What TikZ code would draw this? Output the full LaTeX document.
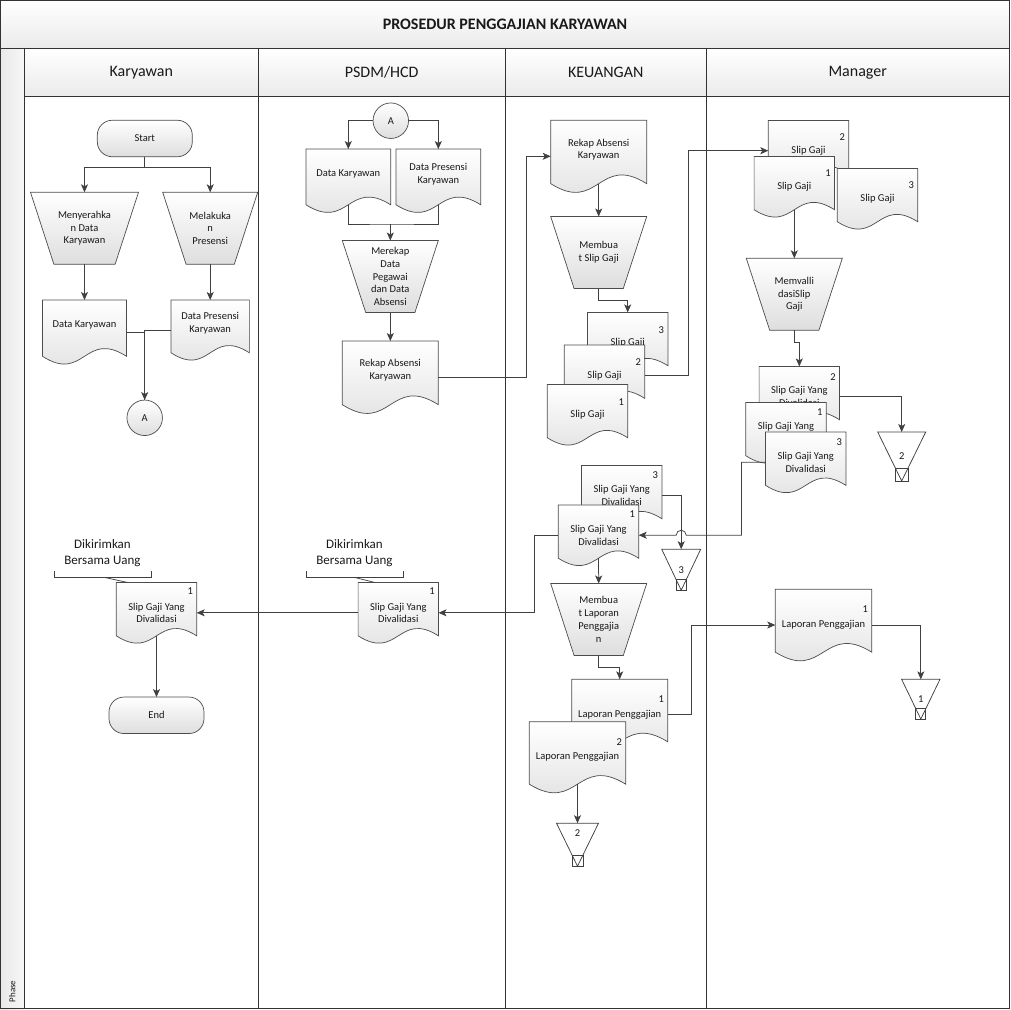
\documentclass[tikz,border=0pt]{standalone}
\usepackage{fontspec}
\setmainfont{Carlito}
\usetikzlibrary{arrows.meta,calc}
\makeatletter
\def\rectanchors{%
  \inheritsavedanchors[from=rectangle]%
  \inheritanchorborder[from=rectangle]%
  \inheritanchor[from=rectangle]{center}%
  \inheritanchor[from=rectangle]{north}%
  \inheritanchor[from=rectangle]{south}%
  \inheritanchor[from=rectangle]{east}%
  \inheritanchor[from=rectangle]{west}%
  \inheritanchor[from=rectangle]{north east}%
  \inheritanchor[from=rectangle]{north west}%
  \inheritanchor[from=rectangle]{south east}%
  \inheritanchor[from=rectangle]{south west}%
  \inheritanchor[from=rectangle]{text}%
  \inheritanchor[from=rectangle]{mid}%
  \inheritanchor[from=rectangle]{base}}
% document with wavy bottom
\pgfdeclareshape{docshape}{%
  \rectanchors
  \anchor{bottom}{%
    \northeast \pgf@xa=\pgf@x \pgf@ya=\pgf@y
    \southwest \advance\pgf@xa by\pgf@x \advance\pgf@ya by-\pgf@y
    \pgf@x=.5\pgf@xa \pgf@ya=.12\pgf@ya \advance\pgf@y by\pgf@ya}%
  \backgroundpath{%
    \southwest \edef\dsh@l{\the\pgf@x}\edef\dsh@b{\the\pgf@y}%
    \northeast \edef\dsh@r{\the\pgf@x}\edef\dsh@t{\the\pgf@y}%
    \pgf@ya=\pgf@y \advance\pgf@ya by-\dsh@b
    \pgf@yb=.42\pgf@ya
    \pgf@ya=.12\pgf@ya \advance\pgf@ya by\dsh@b \edef\dsh@w{\the\pgf@ya}%
    \pgf@yc=\pgf@ya \advance\pgf@yc by\pgf@yb \edef\dsh@u{\the\pgf@yc}%
    \pgf@yc=\pgf@ya \advance\pgf@yc by-\pgf@yb \edef\dsh@d{\the\pgf@yc}%
    \pgf@xa=\dsh@l \advance\pgf@xa by\dsh@r \pgf@xa=.5\pgf@xa \edef\dsh@m{\the\pgf@xa}%
    \pgfpathmoveto{\pgfqpoint{\dsh@l}{\dsh@w}}%
    \pgfpathlineto{\pgfqpoint{\dsh@l}{\dsh@t}}%
    \pgfpathlineto{\pgfqpoint{\dsh@r}{\dsh@t}}%
    \pgfpathlineto{\pgfqpoint{\dsh@r}{\dsh@w}}%
    \pgfpathcurveto{\pgfqpoint{\dsh@m}{\dsh@u}}{\pgfqpoint{\dsh@m}{\dsh@d}}{\pgfqpoint{\dsh@l}{\dsh@w}}%
    \pgfpathclose}%
}
% manual operation
\pgfdeclareshape{manshape}{%
  \rectanchors
  \backgroundpath{%
    \southwest \edef\msh@l{\the\pgf@x}\edef\msh@b{\the\pgf@y}%
    \northeast \edef\msh@r{\the\pgf@x}\edef\msh@t{\the\pgf@y}%
    \pgf@ya=\pgf@y \advance\pgf@ya by-\msh@b
    \pgf@xa=.325\pgf@ya
    \pgf@xb=\msh@l \advance\pgf@xb by\pgf@xa \edef\msh@p{\the\pgf@xb}%
    \pgf@xb=\msh@r \advance\pgf@xb by-\pgf@xa \edef\msh@q{\the\pgf@xb}%
    \pgfpathmoveto{\pgfqpoint{\msh@l}{\msh@t}}%
    \pgfpathlineto{\pgfqpoint{\msh@r}{\msh@t}}%
    \pgfpathlineto{\pgfqpoint{\msh@q}{\msh@b}}%
    \pgfpathlineto{\pgfqpoint{\msh@p}{\msh@b}}%
    \pgfpathclose}%
}
\makeatother
\tikzset{nr/.style 2 args={label={[anchor=center, inner sep=0pt, xshift=-6.5pt, yshift=-#2pt]north east:#1}}}
\begin{document}
\begin{tikzpicture}[>={Stealth[length=8pt,width=7pt,inset=2pt]}, x=1pt, y=-1pt]
\tikzstyle{every node}=[font=\fontsize{10.5}{12.8}\selectfont, align=center, text=black!90]
\tikzstyle{lane}=[draw=black!80, line width=1.2pt]
\tikzstyle{box}=[draw=black!70, line width=0.7pt, top color=white, bottom color=black!13]
\tikzstyle{doc}=[box, shape=docshape, minimum width=80.4, minimum height=60.6, inner sep=1pt, outer sep=0pt]
\tikzstyle{pdoc}=[doc, text depth=15pt]
\tikzstyle{manop}=[box, shape=manshape, minimum width=96, minimum height=72, inner sep=1pt, outer sep=0pt]
\tikzstyle{term}=[box, rectangle, rounded corners=15, minimum width=95, minimum height=36.5, outer sep=0pt]
\tikzstyle{conn}=[box, circle, minimum size=35.5, inner sep=0pt, outer sep=0pt]
\tikzstyle{store}=[rectangle, inner sep=0pt, outer sep=0pt]
\tikzstyle{flow}=[draw=black!75, line width=0.75pt]
\tikzstyle{note}=[font=\fontsize{13}{16}\selectfont, minimum width=96.4, minimum height=48.6, inner sep=0pt]
\useasboundingbox (0,0) rectangle (1010,1010);
% swimlanes
\shade[top color=white, bottom color=black!8] (0,0) rectangle (1010,48.3);
\shade[top color=white, bottom color=black!8] (24.3,48.3) rectangle (1010,96.7);
\shade[left color=black!9, right color=black!3] (0,48.3) rectangle (24.3,1010);
\draw[lane] (0.6,0.6) rectangle (1009.4,1008.6);
\draw[lane] (0.6,48.3) -- (1009.4,48.3) (24.3,96.7) -- (1009.4,96.7);
\foreach \x in {24.3,258.3,505.3,706.3} \draw[lane] (\x,48.3) -- (\x,1008.6);
\node[font=\fontsize{16}{18}\selectfont\bfseries](ttl) at (505,24) {PROSEDUR PENGGAJIAN KARYAWAN};
\node[font=\fontsize{16}{18}\selectfont](h1) at (141.3,72.5) {Karyawan};
\node[font=\fontsize{16}{18}\selectfont](h2) at (381.7,72.5) {PSDM/HCD};
\node[font=\fontsize{16}{18}\selectfont](h3) at (605.7,72.5) {KEUANGAN};
\node[font=\fontsize{16}{18}\selectfont](h4) at (857.7,72.5) {Manager};
\node[font=\fontsize{9}{10}\selectfont, rotate=90](ph) at (12.2,991.5) {Phase};
% Karyawan
\node[term](start) at (144.8,138.5) {Start};
\node[manop, minimum width=108](mk) at (84.5,228.3) {Menyerahka\\n Data\\Karyawan};
\node[manop, minimum width=95](mp) at (210.2,228.3) {Melakuka\\n\\Presensi};
\node[pdoc, minimum width=84, minimum height=64](dk1) at (84.5,332) {Data Karyawan};
\node[pdoc, minimum width=78.3, minimum height=60](dp1) at (210.2,330) {Data Presensi\\Karyawan};
\node[conn](ca) at (144.7,417.8) {A};
\node[note](an1) at (102.5,553) {Dikirimkan\\Bersama Uang};
\node[doc, nr={1}{9}](ks) at (156.5,612.8) {Slip Gaji Yang\\Divalidasi};
\node[term](fin) at (156.5,715.3) {End};
% PSDM/HCD
\node[conn](cb) at (390.8,120.7) {A};
\node[pdoc, minimum width=84.7, minimum height=63.3](dk2) at (348.3,180.7) {Data Karyawan};
\node[pdoc, minimum width=84.7, minimum height=63.3](dp2) at (438.3,180.7) {Data Presensi\\Karyawan};
\coordinate (j1) at (390.3,224);
\node[manop](mr) at (390.3,276.5) {Merekap\\Data\\Pegawai\\dan Data\\Absensi};
\node[pdoc, minimum width=96, minimum height=72.3](rk2) at (390.3,377.2) {Rekap Absensi\\Karyawan};
\node[note](an2) at (354.5,553) {Dikirimkan\\Bersama Uang};
\node[doc, nr={1}{9}](ps) at (398.3,612.8) {Slip Gaji Yang\\Divalidasi};
% KEUANGAN
\node[pdoc, minimum width=96, minimum height=72](rk3) at (598.7,156.3) {Rekap Absensi\\Karyawan};
\node[manop](msg) at (598.7,252.5) {Membua\\t Slip Gaji};
\node[doc, nr={3}{17.5}](sg3) at (627.7,342.7) {Slip Gaji};
\node[doc, nr={2}{17.5}](sg2) at (604.5,375.3) {Slip Gaji};
\node[doc, nr={1}{17.5}](sg1) at (587.5,414.7) {Slip Gaji};
\node[doc, nr={3}{9.5}](kv3) at (621.7,495.7) {Slip Gaji Yang\\Divalidasi};
\node[doc, nr={1}{9.5}](kv1) at (598.5,535.2) {Slip Gaji Yang\\Divalidasi};
\node[store, minimum width=39, minimum height=41](st3) at (681.2,569.7) {3};
\node[manop](mlt) at (598.7,619.5) {Membua\\t Laporan\\Penggajia\\n};
\node[doc, minimum width=96, minimum height=71, nr={1}{20}](kl1) at (619.7,714.8) {Laporan Penggajian};
\node[doc, minimum width=96.4, minimum height=71, nr={2}{20}](kl2) at (577.5,757.2) {Laporan Penggajian};
\node[store, minimum width=42, minimum height=43, text depth=24pt](st4) at (577.5,844.7) {2};
% Manager
\node[doc, nr={2}{17}](ms2) at (808.5,150.7) {Slip Gaji};
\node[doc, nr={1}{17}](ms1) at (794.3,186.7) {Slip Gaji};
\node[doc, nr={3}{17}](ms3) at (877.5,198.7) {Slip Gaji};
\node[manop](mvt) at (794.3,294.3) {Memvalli\\dasiSlip\\Gaji};
\node[doc, nr={2}{11}](mv2) at (799.3,396.7) {Slip Gaji Yang\\Divalidasi};
\node[doc, nr={1}{10}](mv1) at (786,432.7) {Slip Gaji Yang\\Divalidasi};
\node[doc, nr={3}{10}](mv3) at (805.7,462.3) {Slip Gaji Yang\\Divalidasi};
\node[store, minimum width=48, minimum height=49](st2) at (901.7,456.5) {2};
\node[doc, minimum width=96.4, minimum height=71.4, nr={1}{20}](ml1) at (823.5,625) {Laporan Penggajian};
\node[store, minimum width=38.3, minimum height=39.7](st1) at (920.8,699.2) {1};
\foreach \s in {st1,st2,st3,st4}{
  \draw[flow] (\s.north west) -- (\s.north east) -- (\s.south) -- cycle;
  \coordinate (bl) at ($(\s.south)!.26!(\s.north west)$);
  \coordinate (br) at ($(\s.south)!.26!(\s.north east)$);
  \draw[flow] (bl) rectangle (br |- \s.south);
}
% notes
\draw[flow] (an1.south west) ++(0,-6.3) -- (an1.south west) -- (an1.south east) -- ++(0,-6.3);
\draw[flow] ([xshift=2.5pt]an1.south) -- ([xshift=11.4pt]ks.north west);
\draw[flow] (an2.south west) ++(0,-6.3) -- (an2.south west) -- (an2.south east) -- ++(0,-6.3);
\draw[flow] ([xshift=0.5pt]an2.south) -- ([xshift=16.7pt]ps.north west);
% flows
\draw[flow,->] (start.south) -- ++(0,11) -| (mk.north);
\draw[flow,->] (start.south) -- ++(0,11) -| (mp.north);
\draw[flow,->] (mk.south) -- (dk1.north);
\draw[flow,->] (mp.south) -- (dp1.north);
\draw[flow,->] (dk1.east) -| (ca.north);
\draw[flow] (dp1.west) -| (ca.north);
\draw[flow,->] (cb.west) -| (dk2.north);
\draw[flow,->] (cb.east) -| (dp2.north);
\draw[flow] (dk2.bottom) |- (j1) -| (dp2.bottom);
\draw[flow,->] (j1) -- (mr.north);
\draw[flow,->] (mr.south) -- (rk2.north);
\draw[flow,->] (rk2.east) -- ++(87.7,0) |- (rk3.west);
\draw[flow,->] (rk3.bottom) -- (msg.north);
\draw[flow,->] (msg.south) -- ++(0,11.7) -| (sg3.north);
\draw[flow,->] (sg2.east) -- ++(43.6,0) |- (ms2.west);
\draw[flow,->] (ms1.bottom) -- (mvt.north);
\draw[flow,->] (mvt.south) -- ++(0,11.7) -| (mv2.north);
\draw[flow,->] (mv2.east) -| (st2.north);
\draw[flow,->] (kv3.east) -| (st3.north);
\draw[flow,->] (mv3.west) -- ++(-24,0) |- ($(st3.north |- kv1.east)+(5,0)$) arc[start angle=0, end angle=180, radius=5pt] -- (kv1.east);
\draw[flow,->] (kv1.west) -- ++(-24,0) |- (ps.east);
\draw[flow,->] (ps.west) -- (ks.east);
\draw[flow,->] (ks.bottom) -- (fin.north);
\draw[flow,->] (kv1.bottom) -- (mlt.north);
\draw[flow,->] (mlt.south) -- ++(0,11.7) -| (kl1.north);
\draw[flow,->] (kl1.east) -- ++(23.6,0) |- (ml1.west);
\draw[flow,->] (ml1.east) -| (st1.north);
\draw[flow,->] (kl2.bottom) -- (st4.north);
\end{tikzpicture}
\end{document}
